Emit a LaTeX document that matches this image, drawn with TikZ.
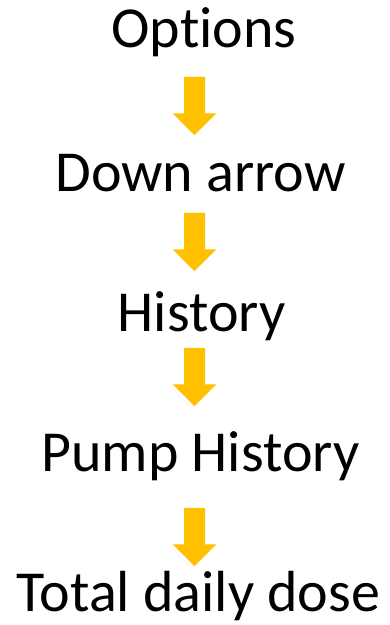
\documentclass[tikz,border=0pt]{standalone}
\usepackage{fontspec}
\setmainfont{Carlito}[RawFeature={-liga;-clig;-calt;-dlig}]
\definecolor{arrowgold}{HTML}{FFC000}
\begin{document}
\begin{tikzpicture}[x=1pt,y=1pt,
  label/.style={inner sep=0pt, anchor=base, font=\fontsize{58}{69}\selectfont},
  blockarrow/.pic={
    % block arrow pointing down, origin at the top centre of the shaft
    \fill[arrowgold] (-10.5,0) -- (10.5,0) -- (10.5,-36.5) -- (21.7,-36.5)
      -- (0,-58) -- (-21.7,-36.5) -- (-10.5,-36.5) -- cycle;
  }]
\useasboundingbox (0,0) rectangle (389,625);
% the kern keeps "t" and "i" as separate glyphs
\node[label] (options) at (204,577) {Opt\kern0pt ions};
\node[label] (down)    at (200.5,433.5) {Down arrow};
\node[label] (hist)    at (201.5,293.5) {History};
\node[label] (pump)    at (200.5,153.5) {Pump History};
\node[label] (total)   at (198.5,13) {Total daily dose};
\pic at (194.5,548) {blockarrow};
\pic at (194.5,412) {blockarrow};
\pic at (194.5,277) {blockarrow};
\pic at (194.5,117) {blockarrow};
\end{tikzpicture}
\end{document}
